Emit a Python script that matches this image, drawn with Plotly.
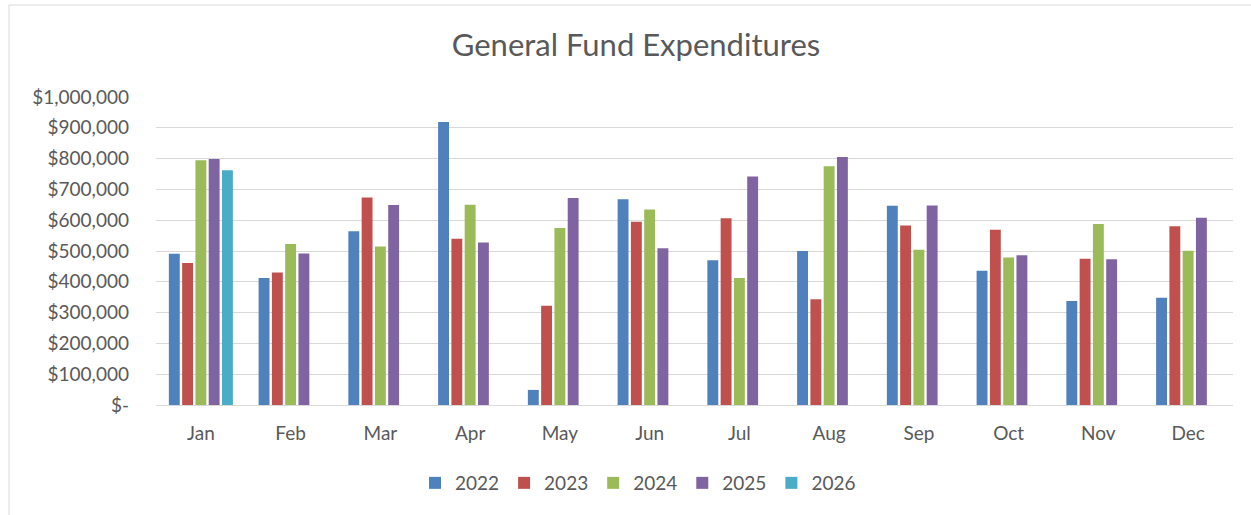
import plotly.graph_objects as go

months = ["Jan", "Feb", "Mar", "Apr", "May", "Jun", "Jul", "Aug", "Sep", "Oct", "Nov", "Dec"]
v2022 = [491000, 412000, 564000, 919000, 49000, 668000, 470000, 500000, 647000, 436000, 338000, 348000]
v2023 = [461000, 430000, 674000, 540000, 322000, 595000, 606000, 343000, 583000, 569000, 475000, 580000]
v2024 = [795000, 523000, 515000, 650000, 575000, 635000, 412000, 775000, 504000, 479000, 588000, 501000]
v2025 = [799000, 492000, 649000, 528000, 672000, 509000, 742000, 805000, 648000, 486000, 473000, 608000]
v2026 = [762000, None, None, None, None, None, None, None, None, None, None, None]

series = [("2022", v2022, "#4F81BD"), ("2023", v2023, "#C0504D"), ("2024", v2024, "#9BBB59"),
          ("2025", v2025, "#8064A2"), ("2026", v2026, "#4BACC6")]

tickvals = [0, 100000, 200000, 300000, 400000, 500000, 600000, 700000, 800000, 900000, 1000000]
ticktext = ["$-", "$100,000", "$200,000", "$300,000", "$400,000", "$500,000", "$600,000",
            "$700,000", "$800,000", "$900,000", "$1,000,000"]

FONT = "Lato"
TXT = "#595959"

fig = go.Figure()
for name, vals, col in series:
    fig.add_trace(go.Bar(x=months, y=vals, name=name, marker=dict(color=col, line=dict(width=0))))

W, H = 1251, 515
L, R, T, B = 156, 18, 97, 110
pw, ph = W - L - R, H - T - B

fig.update_layout(
    width=W, height=H,
    margin=dict(l=L, r=R, t=T, b=B),
    paper_bgcolor="white", plot_bgcolor="white",
    barmode="group", bargap=0.26, bargroupgap=0.18,
    font=dict(family=FONT, color=TXT, size=19),
    title=dict(text="General Fund Expenditures", x=636 / W, xref="container", xanchor="center",
               y=1 - 45 / H, yref="container", yanchor="middle",
               font=dict(family=FONT, size=31, color=TXT)),
    legend=dict(orientation="h", x=638 / W, xref="container", xanchor="center",
                y=1 - 483 / H, yref="container", yanchor="middle",
                font=dict(family=FONT, size=19, color=TXT), itemwidth=30, traceorder="normal"),
    showlegend=True,
    xaxis=dict(showgrid=False, showline=False, zeroline=False, ticks="",
               tickfont=dict(family=FONT, size=19, color=TXT), ticklabelstandoff=15),
    yaxis=dict(range=[0, 1000000], tickvals=tickvals, ticktext=ticktext, showgrid=True,
               gridcolor="#D9D9D9", gridwidth=1, zeroline=True, zerolinecolor="#D9D9D9",
               zerolinewidth=1, showline=False, ticks="", ticklabelstandoff=26,
               tickfont=dict(family=FONT, size=19, color=TXT)),
    shapes=[dict(type="rect", xref="paper", yref="paper",
                 x0=(9 - L) / pw, x1=(W + 20 - L) / pw,
                 y0=-(H + 20 - (T + ph)) / ph, y1=1 + (T - 5) / ph,
                 line=dict(color="#D9D9D9", width=1), fillcolor="rgba(0,0,0,0)", layer="below")],
)

fig.write_html("out.html", config={"displayModeBar": False},
               post_script="document.body.style.margin='0';document.body.style.overflow='hidden';")
